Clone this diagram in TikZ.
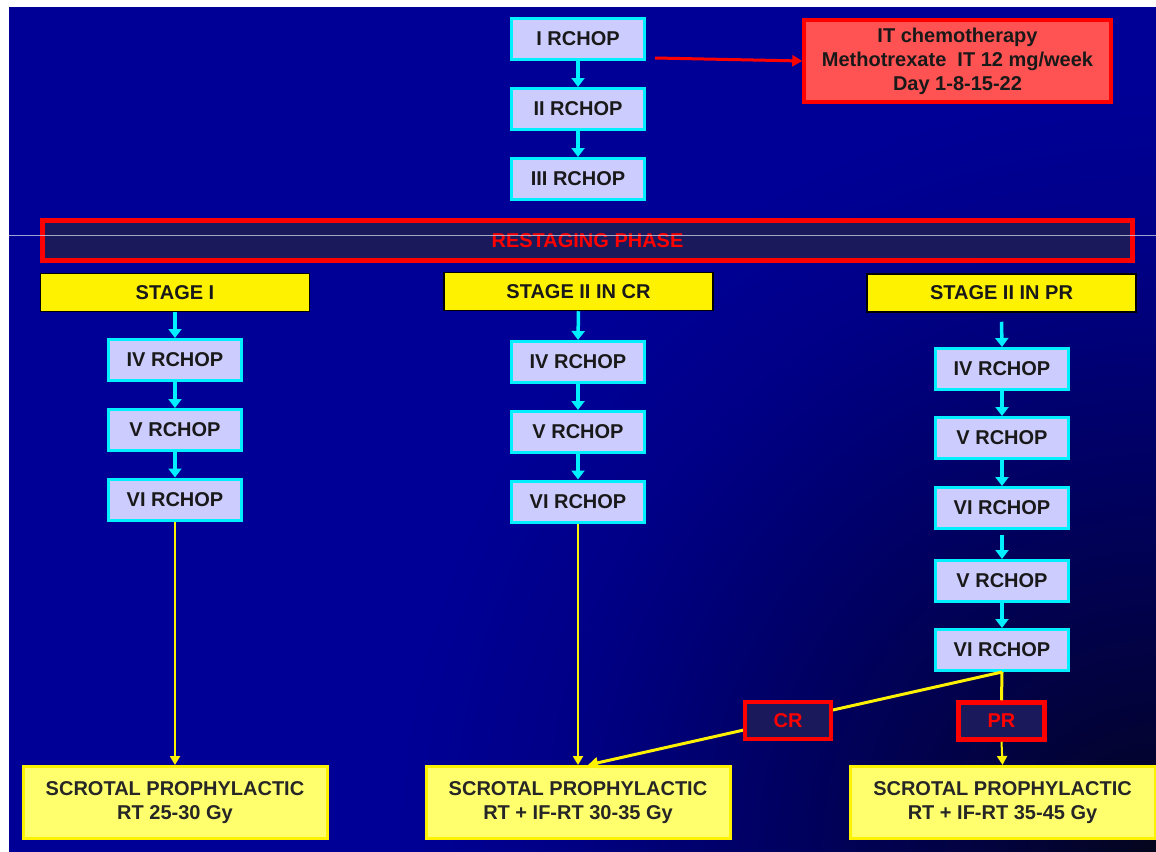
\documentclass[tikz,border=0pt]{standalone}
\usepackage{fontspec}
\setmainfont{Liberation Sans}
\usetikzlibrary{arrows.meta}
\definecolor{bgblue}{RGB}{0,0,150}
\definecolor{bgdark}{RGB}{5,5,30}
\definecolor{bgc1}{RGB}{2,2,60}
\definecolor{bgc2}{RGB}{0,0,100}
\definecolor{bgc3}{RGB}{0,0,135}
\definecolor{lav}{RGB}{204,204,255}
\definecolor{cyanb}{RGB}{0,240,255}
\definecolor{navyfill}{RGB}{25,25,92}
\definecolor{itred}{RGB}{255,82,82}
\definecolor{lyellow}{RGB}{255,255,110}
\definecolor{artline}{RGB}{200,200,225}
\pgfdeclareradialshading{bgshade}{\pgfpoint{0bp}{0bp}}{color(0bp)=(bgdark); color(5bp)=(bgc1); color(13bp)=(bgc2); color(20bp)=(bgc3); color(25bp)=(bgblue); color(50bp)=(bgblue)}
\tikzset{
  txt/.style={font=\bfseries\fontsize{20}{24}\selectfont, align=center, inner sep=0pt},
  rchop/.style={txt, draw=cyanb, line width=3pt, fill=lav, text=black!90, minimum width=133pt, minimum height=41pt},
  stagebox/.style={txt, draw=black, line width=1.5pt, fill=yellow, text=black!90, minimum width=269pt, minimum height=38pt},
  scrotal/.style={txt, draw=yellow, line width=3pt, fill=lyellow, text=black!85, minimum width=304pt, minimum height=72pt},
  redlab/.style={txt, draw=red, line width=4.5pt, fill=navyfill, text=red, minimum width=86pt, minimum height=37pt},
  carrow/.style={draw=cyanb, line width=3.5pt, -{Triangle[length=9pt,width=13pt]}},
  yarrow/.style={draw=yellow, line width=2pt, -{Triangle[length=9pt,width=10pt]}},
  yline/.style={draw=yellow, line width=3pt},
}
\begin{document}
\begin{tikzpicture}[x=1pt,y=-1pt]
\useasboundingbox (0,0) rectangle (1156,851);
\fill[white] (0,0) rectangle (1156,851);
\fill[bgblue] (9,7) rectangle (1160,856);
\begin{scope}
  \clip (9,7) rectangle (1160,856);
  \shade[shading=bgshade] (1156,851) circle (760);
\end{scope}

% top column
\node[rchop] (r1) at (578,39) {I RCHOP};
\node[rchop] (r2) at (578,109) {II RCHOP};
\node[rchop] (r3) at (578,179) {III RCHOP};
\draw[carrow] (r1.south) -- (r2.north);
\draw[carrow] (r2.south) -- (r3.north);

\node[txt, draw=red, line width=3.5pt, fill=itred, text=black!90, minimum width=307pt, minimum height=82pt] (it) at (957.5,61)
  {IT chemotherapy\\Methotrexate\ \ IT 12 mg/week\\Day 1-8-15-22};
\coordinate (rs) at (655,58);
\draw[draw=red, line width=3pt, -{Triangle[length=10pt,width=11pt]}] (rs) -- (it.west);

% restaging
\node[txt, draw=red, line width=5pt, fill=navyfill, text=red, minimum width=1090pt, minimum height=40pt] (rest) at (587.5,240.5) {RESTAGING PHASE};
\coordinate (al) at (9,235);
\coordinate (ar) at (1156,235);
\draw[artline, line width=0.8pt, opacity=0.8] (al) -- (ar);

% stages
\node[stagebox] (st1) at (175,292.5) {STAGE I};
\node[stagebox] (st2) at (578.5,291.5) {STAGE II IN CR};
\node[stagebox] (st3) at (1001.5,293) {STAGE II IN PR};

% column 1
\node[rchop] (a4) at (175,360) {IV RCHOP};
\node[rchop] (a5) at (175,430) {V RCHOP};
\node[rchop] (a6) at (175,499.5) {VI RCHOP};
\draw[carrow] (st1.south) -- (a4.north);
\draw[carrow] (a4.south) -- (a5.north);
\draw[carrow] (a5.south) -- (a6.north);

% column 2
\node[rchop] (b4) at (578,362) {IV RCHOP};
\node[rchop] (b5) at (578,432) {V RCHOP};
\node[rchop] (b6) at (578,501.5) {VI RCHOP};
\draw[carrow] (st2.south) -- (b4.north);
\draw[carrow] (b4.south) -- (b5.north);
\draw[carrow] (b5.south) -- (b6.north);

% column 3
\node[rchop] (c4) at (1002,369) {IV RCHOP};
\node[rchop] (c5) at (1002,438) {V RCHOP};
\node[rchop] (c6) at (1002,508) {VI RCHOP};
\node[rchop] (c7) at (1002,581) {V RCHOP};
\node[rchop] (c8) at (1002,650) {VI RCHOP};
\draw[carrow] ([yshift=-9pt]st3.south) -- (c4.north);
\draw[carrow] (c4.south) -- (c5.north);
\draw[carrow] (c5.south) -- (c6.north);
\draw[carrow] ([yshift=-5pt]c6.south) -- (c7.north);
\draw[carrow] (c7.south) -- (c8.north);

% bottom
\node[scrotal] (s1) at (175,802.5) {SCROTAL PROPHYLACTIC\\RT 25-30 Gy};
\node[scrotal] (s2) at (578,802.5) {SCROTAL PROPHYLACTIC\\RT + IF-RT 30-35 Gy};
\node[scrotal, minimum width=305pt] (s3) at (1002.5,802.5) {SCROTAL PROPHYLACTIC\\RT + IF-RT 35-45 Gy};

\draw[yarrow] (a6.south) -- (s1.north);
\draw[yarrow] (b6.south) -- (s2.north);

\coordinate (split) at (c8.south);
\draw[yline, -{Triangle[length=10pt,width=11pt]}] (split) -- ([xshift=10pt]s2.north);
\node[redlab] (cr) at (788,720.5) {CR};
\node[redlab] (pr) at (1001.5,721) {PR};
\draw[yline] (split) -- (pr.north);
\draw[yarrow] (pr.south) -- (s3.north);
\end{tikzpicture}
\end{document}
